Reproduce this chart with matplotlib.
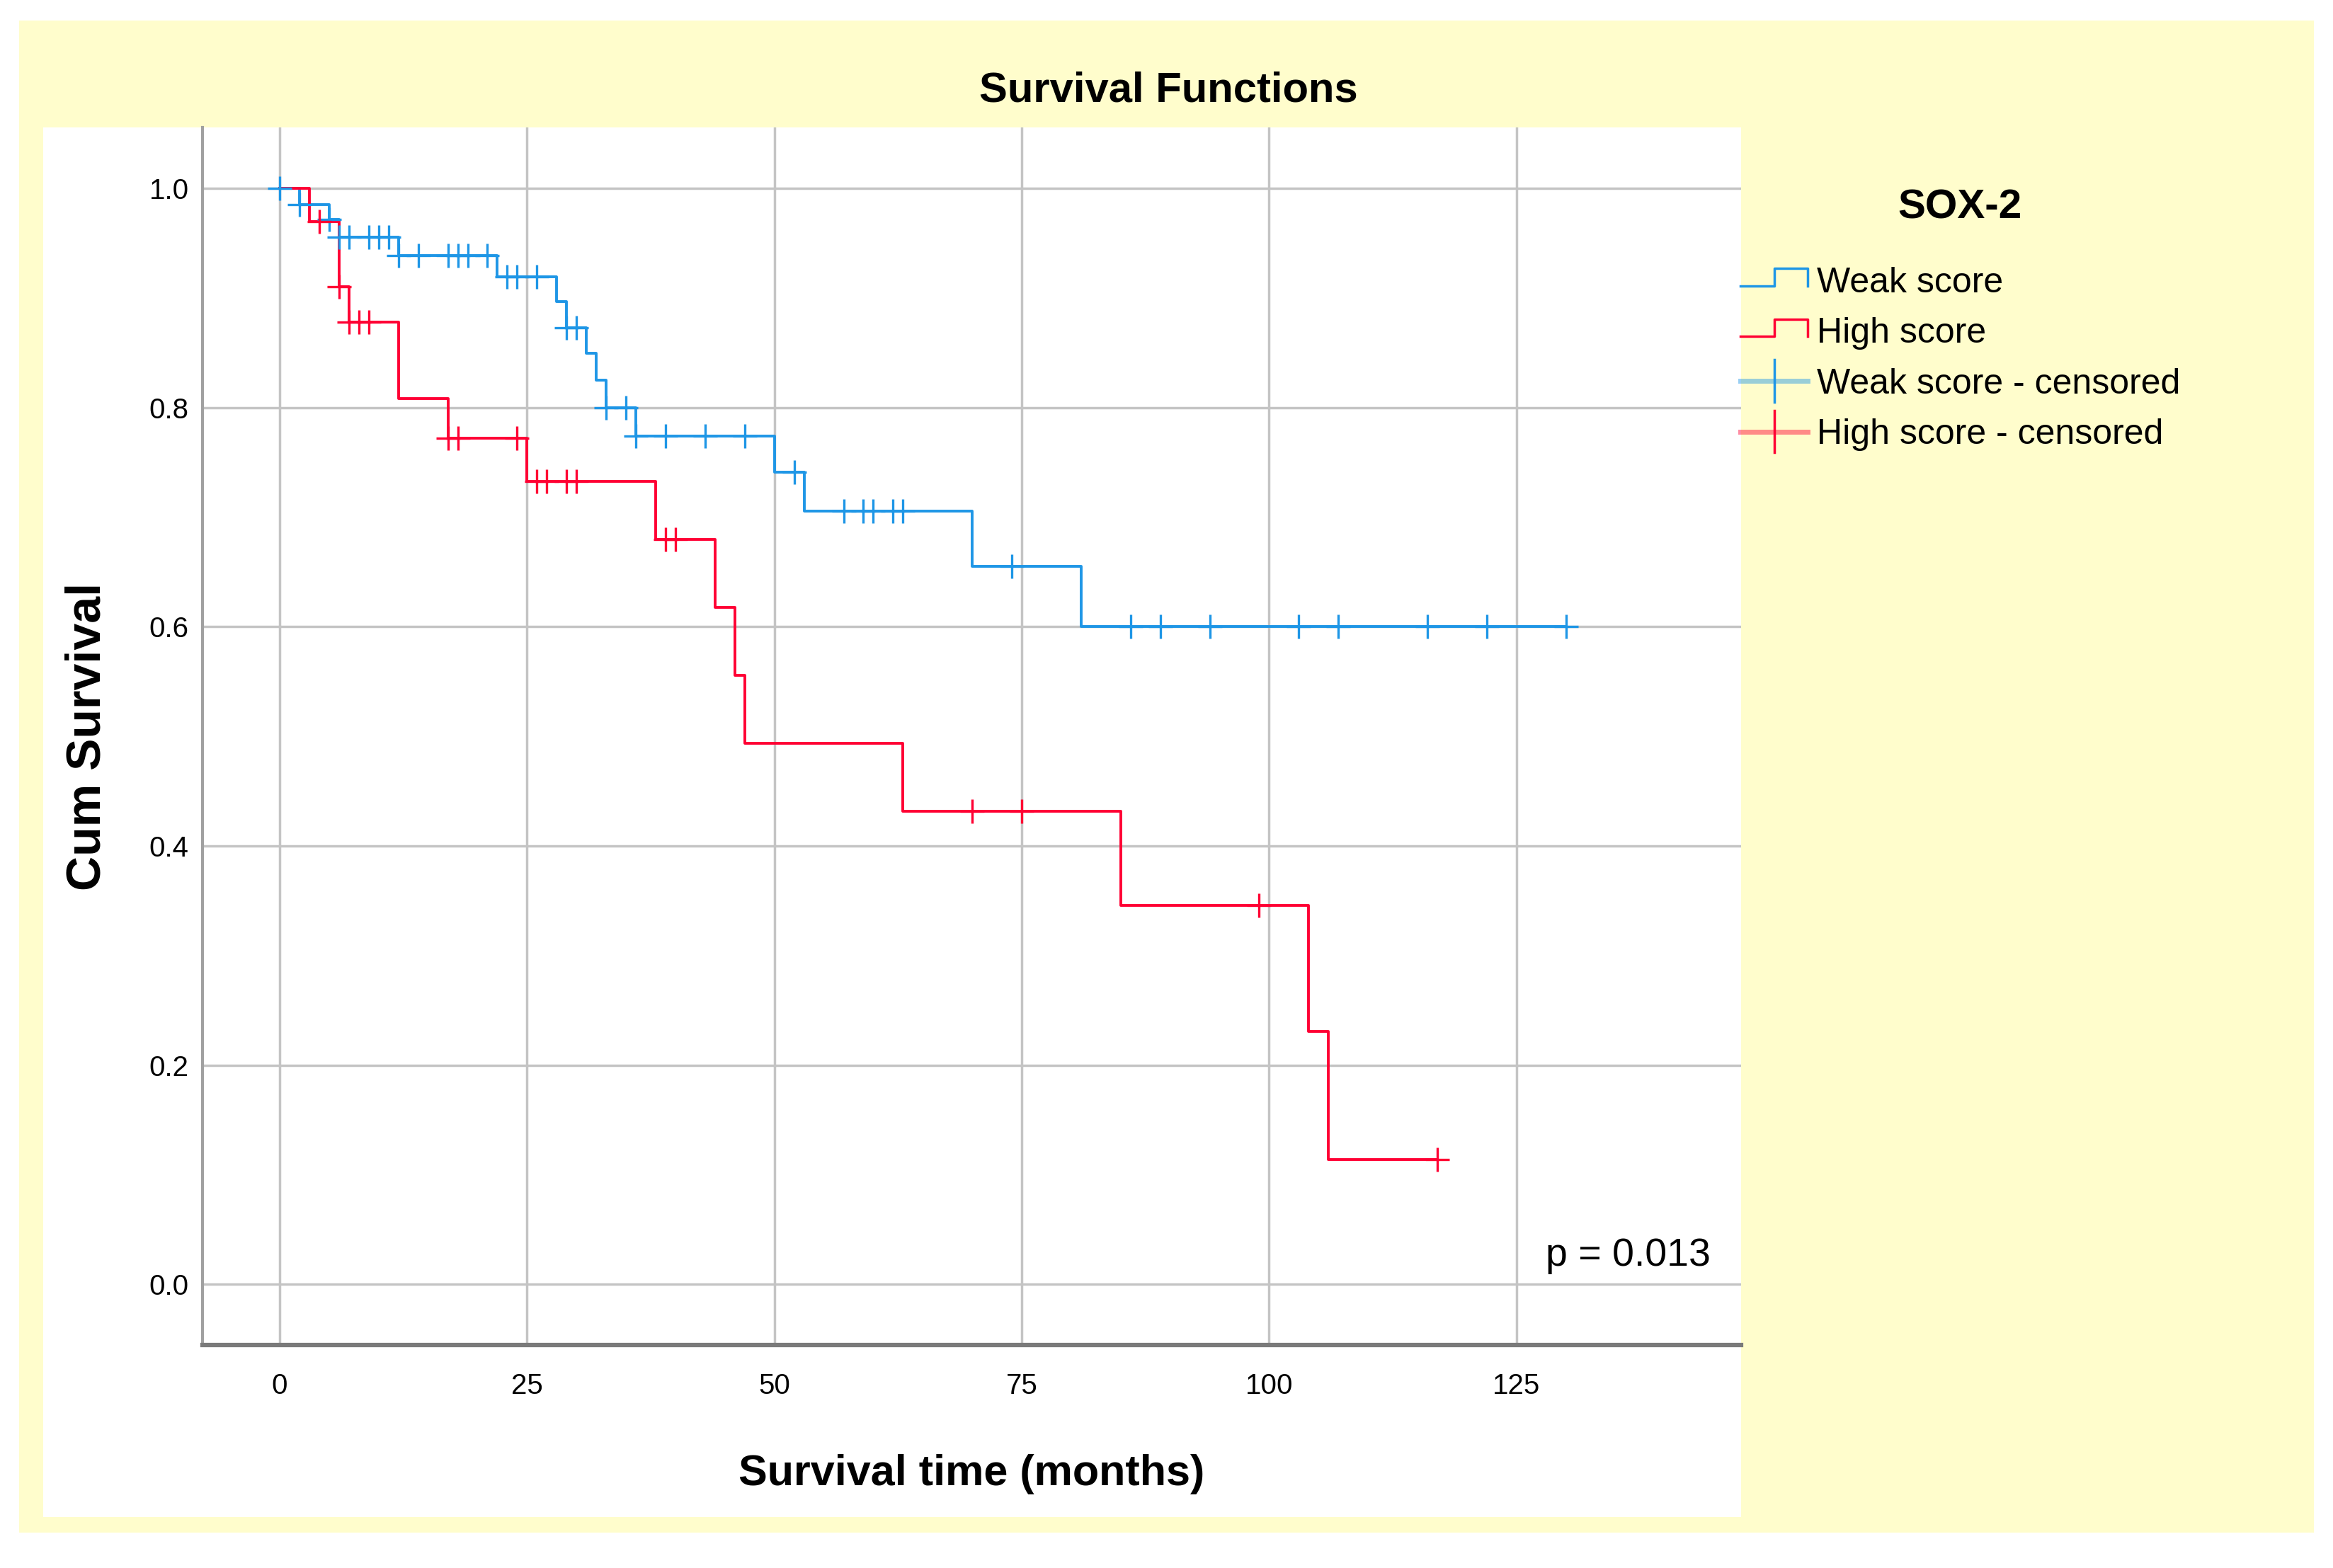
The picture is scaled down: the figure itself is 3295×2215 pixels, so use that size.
import numpy as np
import matplotlib
matplotlib.use("Agg")
import matplotlib.pyplot as plt
from matplotlib.lines import Line2D
from matplotlib.patches import Rectangle
from matplotlib.legend_handler import HandlerBase
from matplotlib.ticker import FormatStrFormatter

plt.rcParams['font.family'] = ['Liberation Sans', 'DejaVu Sans']

# ---------------- data ----------------
weak_times = [0, 2, 5, 6, 12, 22, 28, 29, 31, 32, 33, 36, 50, 53, 70, 81]
weak_surv = [1.0, 0.9855, 0.9717, 0.9555, 0.9387, 0.919, 0.8968, 0.873,
             0.8497, 0.825, 0.800, 0.774, 0.741, 0.7057, 0.655, 0.600]
weak_end = 130
weak_censored = [0, 2, 5, 6, 7, 9, 10, 11, 12, 14, 17, 18, 19, 21, 23, 24, 26,
                 29, 30, 33, 35, 36, 39, 43, 47, 52, 57, 59, 60, 62, 63, 74,
                 86, 89, 94, 103, 107, 116, 122, 130]

high_times = [0, 3, 6, 7, 12, 17, 25, 38, 44, 46, 47, 63, 85, 104, 106]
high_surv = [1.0, 0.9695, 0.910, 0.878, 0.8085, 0.772, 0.7324, 0.6797,
             0.6174, 0.556, 0.4938, 0.432, 0.346, 0.231, 0.114]
high_end = 117
high_censored = [4, 6, 7, 8, 9, 17, 18, 24, 26, 27, 29, 30, 39, 40, 70, 75, 99, 117]

x_ticks = [0, 25, 50, 75, 100, 125]
y_ticks = [0.0, 0.2, 0.4, 0.6, 0.8, 1.0]
series_labels = ["Weak score", "High score", "Weak score - censored", "High score - censored"]
legend_title = "SOX-2"
p_text = "p = 0.013"

BLUE = '#1E96E6'
RED = '#FF0033'
YELLOW = '#FFFDCC'

W, H = 3295, 2215
fig = plt.figure(figsize=(W / 100, H / 100), dpi=100, facecolor='white')

# yellow background and white plot panel
fig.patches.append(Rectangle((27 / W, 1 - 2165 / H), (3268 - 27) / W, (2165 - 29) / H,
                             transform=fig.transFigure, facecolor=YELLOW, edgecolor='none', zorder=-10))
fig.patches.append(Rectangle((61 / W, 1 - 2143 / H), (2459 - 61) / W, (2143 - 180) / H,
                             transform=fig.transFigure, facecolor='white', edgecolor='none', zorder=-9))

AX_L, AX_R, AX_T, AX_B = 286, 2459, 180, 1900
ax = fig.add_axes([AX_L / W, 1 - AX_B / H, (AX_R - AX_L) / W, (AX_B - AX_T) / H])
ax.set_facecolor('white')
ax.set_xlim(-7.8, 147.7)
ax.set_ylim(-0.0553, 1.0556)


def fx(px):
    return (px - AX_L) / (AX_R - AX_L)


def fy(py):
    return (AX_B - py) / (AX_B - AX_T)


def step_xy(times, surv, end):
    return list(times) + [end], list(surv) + [surv[-1]]


def level_at(times, surv, t):
    idx = np.searchsorted(np.asarray(times), np.asarray(t), side='right') - 1
    return np.asarray(surv)[idx]


wx, wy = step_xy(weak_times, weak_surv, weak_end)
hx, hy = step_xy(high_times, high_surv, high_end)
ax.step(wx, wy, where='post', color=BLUE, lw=2.8, zorder=3)
ax.step(hx, hy, where='post', color=RED, lw=2.8, zorder=3)
ax.plot(weak_censored, level_at(weak_times, weak_surv, weak_censored), '+',
        color=BLUE, ms=24, mew=2.4, zorder=4, linestyle='none')
ax.plot(high_censored, level_at(high_times, high_surv, high_censored), '+',
        color=RED, ms=24, mew=2.4, zorder=4, linestyle='none')

ax.set_xticks(x_ticks)
ax.set_yticks(y_ticks)
ax.yaxis.set_major_formatter(FormatStrFormatter('%.1f'))
ax.tick_params(axis='both', length=0, labelsize=29)
ax.tick_params(axis='x', pad=28)
ax.tick_params(axis='y', pad=14)
ax.grid(True, color='#C4C4C4', lw=2.5)
ax.set_axisbelow(True)
for s in ['top', 'right']:
    ax.spines[s].set_visible(False)
ax.spines['left'].set_color('#A0A0A0')
ax.spines['left'].set_linewidth(3)
ax.spines['bottom'].set_color('#7A7A7A')
ax.spines['bottom'].set_linewidth(4.5)

ax.set_xlabel('Survival time (months)', fontsize=44, fontweight='bold')
ax.xaxis.label.set_va('baseline')
ax.xaxis.set_label_coords(fx(1372), fy(2098))
ax.set_ylabel('Cum Survival', fontsize=49, fontweight='bold')
ax.yaxis.label.set_va('center')
ax.yaxis.set_label_coords(fx(124), fy(1040))

ax.set_title('Survival Functions', fontsize=43, fontweight='bold',
             x=fx(1650), y=fy(152), va='baseline')

ax.text(fx(2416), fy(1788), p_text,
        transform=ax.transAxes, ha='right', va='baseline', fontsize=40)


# ---------------- legend ----------------
class StepHandler(HandlerBase):
    def create_artists(self, legend, orig_handle, xdescent, ydescent, width, height,
                       fontsize, trans):
        x0 = -xdescent
        x1 = x0 + width * 0.5
        x2 = x0 + width
        lo = -ydescent + height * 0.25
        hi = -ydescent + height * 0.95
        ln = Line2D([x0, x1, x1, x2, x2], [lo, lo, hi, hi, lo],
                    color=orig_handle.get_color(), lw=2.5, transform=trans)
        return [ln]


class CensorHandler(HandlerBase):
    def create_artists(self, legend, orig_handle, xdescent, ydescent, width, height,
                       fontsize, trans):
        x0 = -xdescent
        xm = x0 + width * 0.5
        x2 = x0 + width
        ym = -ydescent + height * 0.5
        c = orig_handle.get_color()
        h_line = Line2D([x0, x2], [ym, ym], color=c, alpha=0.45, lw=5, transform=trans)
        v_line = Line2D([xm, xm], [ym - height * 0.85, ym + height * 0.85], color=c,
                        lw=2.5, transform=trans)
        return [h_line, v_line]


h_weak = Line2D([], [], color=BLUE)
h_high = Line2D([], [], color=RED)
h_weak_c = Line2D([], [], color=BLUE)
h_high_c = Line2D([], [], color=RED)
leg = fig.legend([h_weak, h_high, h_weak_c, h_high_c], series_labels,
                 loc='upper left', bbox_to_anchor=(2458 / W, 1 - 267 / H),
                 frameon=False, fontsize=36, title=legend_title,
                 title_fontproperties={'weight': 'bold', 'size': 42},
                 handlelength=1.9, handletextpad=0.25, labelspacing=0.51,
                 borderpad=0, borderaxespad=0,
                 handler_map={h_weak: StepHandler(), h_high: StepHandler(),
                              h_weak_c: CensorHandler(), h_high_c: CensorHandler()})
leg._legend_box.sep = 40

fig.savefig('out.png', dpi=100, facecolor='white')
